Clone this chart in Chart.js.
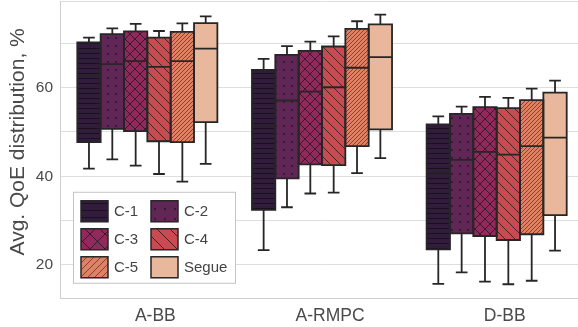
<!DOCTYPE html>
<html><head><meta charset="utf-8">
<script src="https://cdn.jsdelivr.net/npm/chart.js@4/dist/chart.umd.min.js"></script>
<style>
html,body{margin:0;padding:0;overflow:hidden;background:#fff;width:578px;height:327px}
#wrap{width:584px;height:333px;margin-top:-6px}
</style>
</head><body><div id="wrap"><canvas id="c" width="584" height="333"></canvas></div>
<script>
// ---- data ----
const categories = ['A-BB', 'A-RMPC', 'D-BB'];
const seriesNames = ['C-1', 'C-2', 'C-3', 'C-4', 'C-5', 'Segue'];
const yTicksLabelled = [20, 40, 60];
const yTitle = 'Avg. QoE distribution, %';

// five-number summaries per series, values for [A-BB, A-RMPC, D-BB]
const c1Low = [41.7, 23.3, 15.7], c1Q1 = [47.7, 32.4, 23.5], c1Med = [62.8, 51.1, 40.8], c1Q3 = [70.2, 64.0, 51.7], c1High = [71.3, 66.5, 53.5];
const c2Low = [43.8, 33.0, 18.3], c2Q1 = [50.7, 39.5, 27.1], c2Med = [65.3, 57.1, 43.7], c2Q3 = [72.1, 67.4, 54.1], c2High = [73.4, 69.4, 55.7];
const c3Low = [42.4, 36.1, 16.2], c3Q1 = [50.2, 42.7, 26.5], c3Med = [66.0, 59.1, 45.5], c3Q3 = [72.7, 68.3, 55.6], c3High = [74.4, 70.4, 57.9];
const c4Low = [40.5, 36.3, 15.6], c4Q1 = [47.9, 42.5, 25.6], c4Med = [64.7, 60.1, 44.9], c4Q3 = [71.3, 69.3, 55.4], c4High = [72.8, 71.6, 57.7];
const c5Low = [38.8, 40.7, 16.4], c5Q1 = [47.7, 46.8, 26.9], c5Med = [66.0, 64.5, 46.8], c5Q3 = [72.6, 73.3, 57.2], c5High = [74.5, 75.0, 59.8];
const sgLow = [42.8, 44.1, 23.2], sgQ1 = [52.2, 50.6, 31.2], sgMed = [68.8, 66.9, 48.7], sgQ3 = [74.6, 74.3, 58.9], sgHigh = [76.1, 76.5, 61.6];

const lows = [c1Low, c2Low, c3Low, c4Low, c5Low, sgLow];
const q1s = [c1Q1, c2Q1, c3Q1, c4Q1, c5Q1, sgQ1];
const meds = [c1Med, c2Med, c3Med, c4Med, c5Med, sgMed];
const q3s = [c1Q3, c2Q3, c3Q3, c4Q3, c5Q3, sgQ3];
const highs = [c1High, c2High, c3High, c4High, c5High, sgHigh];

// ---- styles ----
const colors = ['#311d3b', '#5f2656', '#92295d', '#c94a51', '#df8165', '#e9b89c'];
const hatches = ['h', 'dot', 'x', 'bs', 'fs', 'none'];
const EDGE = '#262626';
const FONT = '"Liberation Sans", Arial, Helvetica, sans-serif';

function makePattern(color, kind, big) {
  const sizes = big ? {h: 7, dot: 10, x: 15, bs: 13, fs: 7, none: 4} : {h: 5, dot: 8, x: 10, bs: 10, fs: 4, none: 4};
  const w = sizes[kind], h = w;
  const cv = document.createElement('canvas');
  cv.width = w; cv.height = h;
  const g = cv.getContext('2d');
  g.fillStyle = color; g.fillRect(0, 0, w, h);
  g.strokeStyle = kind === 'fs' ? 'rgba(60,30,30,0.6)' : (kind === 'h' ? 'rgba(10,5,10,0.55)' : 'rgba(25,20,25,0.75)');
  g.fillStyle = 'rgba(25,20,25,0.85)';
  g.lineWidth = 1;
  g.beginPath();
  if (kind === 'h') { g.moveTo(0, h - 0.5); g.lineTo(w, h - 0.5); }
  else if (kind === 'dot') { g.arc(w / 2, h / 2, 0.9, 0, Math.PI * 2); g.fill(); }
  else if (kind === 'x') { for (let k = -1; k <= 1; k++) { g.moveTo(k * w, 0); g.lineTo(k * w + w, h); g.moveTo(k * w, h); g.lineTo(k * w + w, 0); } }
  else if (kind === 'bs') { for (let k = -1; k <= 1; k++) { g.moveTo(k * w, 0); g.lineTo(k * w + w, h); } }
  else if (kind === 'fs') { for (let k = -1; k <= 1; k++) { g.moveTo(k * w, h); g.lineTo(k * w + w, 0); } }
  if (kind !== 'dot') g.stroke();
  const ctx = document.getElementById('c').getContext('2d');
  return ctx.createPattern(cv, 'repeat');
}

const boxPatterns = colors.map((c, i) => makePattern(c, hatches[i], false));
const legendPatterns = colors.map((c, i) => makePattern(c, hatches[i], true));

const datasets = seriesNames.map((name, i) => ({
  label: name,
  data: categories.map((_, j) => [q1s[i][j], q3s[i][j]]),
  backgroundColor: boxPatterns[i],
  borderWidth: 0,
  barPercentage: 1.0,
  categoryPercentage: 0.802
}));

const boxPlugin = {
  id: 'boxParts',
  afterDatasetsDraw(chart) {
    const ctx = chart.ctx, ys = chart.scales.y;
    ctx.save();
    ctx.strokeStyle = EDGE;
    ctx.lineWidth = 1.8;
    chart.data.datasets.forEach((ds, i) => {
      chart.getDatasetMeta(i).data.forEach((bar, j) => {
        const {x, width} = bar.getProps(['x', 'width'], true);
        const yq1 = ys.getPixelForValue(q1s[i][j]);
        const yq3 = ys.getPixelForValue(q3s[i][j]);
        const ymed = ys.getPixelForValue(meds[i][j]);
        const ylo = ys.getPixelForValue(lows[i][j]);
        const yhi = ys.getPixelForValue(highs[i][j]);
        const l = x - width / 2, r = x + width / 2;
        ctx.beginPath();
        ctx.rect(l, yq3, width, yq1 - yq3);
        ctx.moveTo(l, ymed); ctx.lineTo(r, ymed);
        ctx.moveTo(x, yq3); ctx.lineTo(x, yhi);
        ctx.moveTo(x, yq1); ctx.lineTo(x, ylo);
        ctx.moveTo(x - width / 4, yhi); ctx.lineTo(x + width / 4, yhi);
        ctx.moveTo(x - width / 4, ylo); ctx.lineTo(x + width / 4, ylo);
        ctx.stroke();
      });
    });
    ctx.restore();
  },
  afterDraw(chart) {
    const ctx = chart.ctx, a = chart.chartArea;
    // y-axis title
    ctx.save();
    ctx.translate(18, (a.top + a.bottom) / 2 - 8);
    ctx.rotate(-Math.PI / 2);
    ctx.font = '21px ' + FONT;
    ctx.fillStyle = '#4a4a4a';
    ctx.textAlign = 'center';
    ctx.textBaseline = 'middle';
    ctx.fillText(yTitle, 0, 0);
    ctx.restore();
    // legend
    const L = a.left + 13, T = a.top + 190, W = 163, H = 92;
    ctx.save();
    ctx.fillStyle = 'rgba(255,255,255,0.95)';
    ctx.fillRect(L, T, W, H);
    ctx.strokeStyle = '#c4c4c4'; ctx.lineWidth = 1;
    ctx.strokeRect(L + 0.5, T + 0.5, W - 1, H - 1);
    ctx.font = '15px ' + FONT;
    ctx.textBaseline = 'middle';
    seriesNames.forEach((name, i) => {
      const col = i % 2, row = Math.floor(i / 2);
      const sx = L + 8 + col * 70, sy = T + 9 + row * 28;
      ctx.fillStyle = legendPatterns[i];
      ctx.fillRect(sx, sy, 27, 21);
      ctx.strokeStyle = EDGE; ctx.lineWidth = 1.5;
      ctx.strokeRect(sx, sy, 27, 21);
      ctx.fillStyle = '#444';
      ctx.fillText(name, sx + 33, sy + 11);
    });
    ctx.restore();
  }
};

new Chart(document.getElementById('c'), {
  type: 'bar',
  data: {labels: categories, datasets},
  options: {
    responsive: false,
    animation: false,
    layout: {padding: 0},
    plugins: {legend: {display: false}, tooltip: {enabled: false}},
    scales: {
      x: {
        grid: {display: false, drawTicks: false},
        border: {display: true, color: '#cfcfcf', width: 1},
        ticks: {font: {family: FONT, size: 17.5}, color: '#4a4a4a', labelOffset: 8, padding: 8},
        afterFit(s) { s.height = 29; }
      },
      y: {
        min: 12.5, max: 79.4,
        grid: {color: '#dedede', lineWidth: 1, drawTicks: false},
        border: {display: true, color: '#cfcfcf', width: 1},
        ticks: {
          stepSize: 10, padding: 7, color: '#4a4a4a',
          font: {family: FONT, size: 15.5, lineHeight: 0.1},
          callback: v => yTicksLabelled.includes(v) ? String(v) : ''
        },
        title: {display: false},
        afterFit(s) { s.width = 60; }
      }
    }
  },
  plugins: [boxPlugin]
});
</script>
</body></html>
